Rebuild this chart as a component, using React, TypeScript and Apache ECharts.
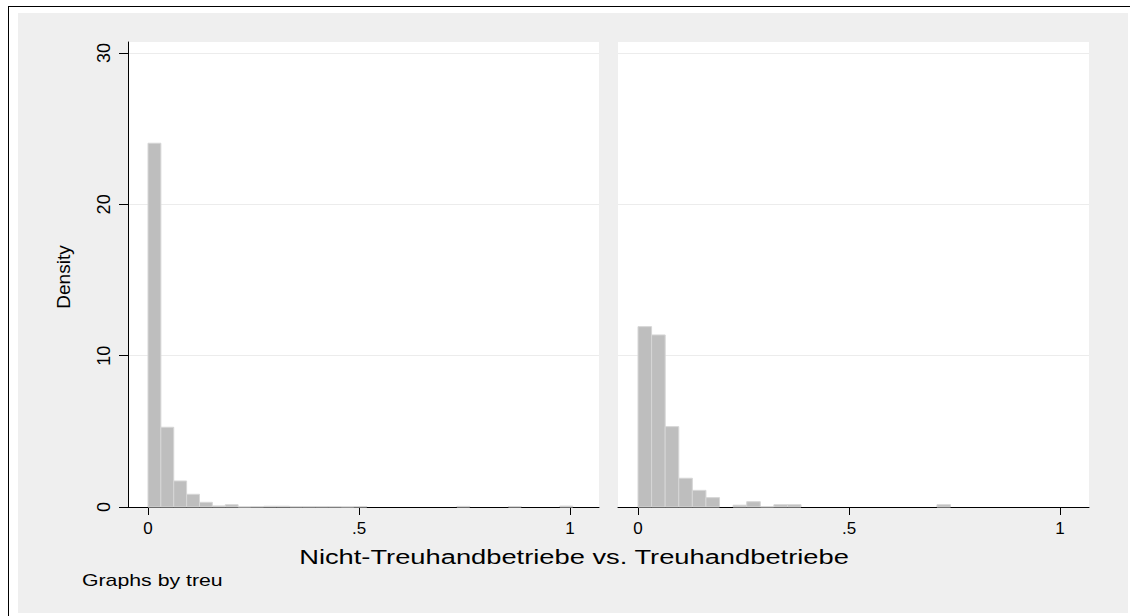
import React, { useEffect, useRef } from "react";
import * as echarts from "echarts";

// Histogram densities (bins start at 0)
const leftBinWidth = 0.0305;
const leftDensity = [
  24.04, 5.27, 1.72, 0.84, 0.31, 0.07, 0.15, 0.01, 0.02, 0.05, 0.05, 0.02, 0.02,
  0.02, 0.02, 0.01, 0.03, 0, 0, 0, 0, 0, 0, 0, 0.04, 0, 0, 0, 0.03, 0, 0, 0, 0.06,
];
const rightBinWidth = 0.0322;
const rightDensity = [
  11.92, 11.37, 5.31, 1.9, 1.1, 0.62, 0, 0.12, 0.35, 0.02, 0.15, 0.15, 0, 0, 0, 0,
  0, 0, 0, 0, 0, 0, 0.15,
];
const xTicks = [0, 0.5, 1];
const yTicks = [0, 10, 20, 30];
const xTitle = "Nicht-Treuhandbetriebe vs. Treuhandbetriebe";
const yTitle = "Density";
const note = "Graphs by treu";

const FONT = "Liberation Sans, Arial, Helvetica, sans-serif";

function toBins(values: number[], w: number) {
  const out: number[][] = [];
  values.forEach((v, i) => {
    if (v > 0) out.push([i * w, (i + 1) * w, v]);
  });
  return out;
}

const fmtX = (v: number) => String(v).replace(/^0\./, ".");

export default function App() {
  const ref = useRef<HTMLDivElement>(null);
  useEffect(() => {
    if (!ref.current) return;
    const chart = echarts.init(ref.current, undefined, { renderer: "svg" });
    const renderItem = (params: any, api: any) => {
      const x0 = api.value(0);
      const x1 = api.value(1);
      const y = api.value(2);
      const p0 = api.coord([x0, 0]);
      const p1 = api.coord([x1, y]);
      return {
        type: "rect",
        shape: { x: p0[0], y: p1[1], width: p1[0] - p0[0], height: p0[1] - p1[1] },
        style: { fill: "#bebebe", stroke: "#d6d6d6", lineWidth: 1 },
      };
    };
    const xAxisBase = (gridIndex: number) => ({
      type: "value",
      gridIndex,
      min: -0.0474,
      max: 1.0687,
      axisLine: { show: true, onZero: false, lineStyle: { color: "#000", width: 1 } },
      axisTick: { show: true, length: 8, customValues: xTicks, lineStyle: { color: "#000" } },
      axisLabel: {
        show: true,
        customValues: xTicks,
        formatter: fmtX,
        fontSize: 17,
        color: "#000",
        margin: 13,
        fontFamily: FONT,
      },
      splitLine: { show: false },
    });
    const yAxisBase = (gridIndex: number, showAxis: boolean) => ({
      type: "value",
      gridIndex,
      min: 0,
      max: 30.73,
      interval: 10,
      axisLine: { show: showAxis, onZero: false, lineStyle: { color: "#000", width: 1 } },
      axisTick: { show: showAxis, length: 9, customValues: yTicks, lineStyle: { color: "#000" } },
      axisLabel: {
        show: showAxis,
        customValues: yTicks,
        rotate: 90,
        fontSize: 18,
        color: "#000",
        margin: 15,
        fontFamily: FONT,
      },
      splitLine: { show: true, lineStyle: { color: "#ececec", width: 1 } },
    });
    chart.setOption({
      animation: false,
      backgroundColor: "#ffffff",
      grid: [
        { left: 128, top: 42, width: 471, height: 465, show: true, backgroundColor: "#ffffff", borderWidth: 0 },
        { left: 618, top: 42, width: 471, height: 465, show: true, backgroundColor: "#ffffff", borderWidth: 0 },
      ],
      xAxis: [xAxisBase(0), xAxisBase(1)],
      yAxis: [yAxisBase(0, true), yAxisBase(1, false)],
      series: [
        {
          type: "custom",
          xAxisIndex: 0,
          yAxisIndex: 0,
          renderItem,
          encode: { x: [0, 1], y: 2 },
          data: toBins(leftDensity, leftBinWidth),
        },
        {
          type: "custom",
          xAxisIndex: 1,
          yAxisIndex: 1,
          renderItem,
          encode: { x: [0, 1], y: 2 },
          data: toBins(rightDensity, rightBinWidth),
        },
      ],
      graphic: [
        { type: "rect", z: -10, shape: { x: 18, y: 13, width: 1110, height: 600 }, style: { fill: "#efefef" } },
        { type: "line", shape: { x1: 8, y1: 6.5, x2: 1130, y2: 6.5 }, style: { stroke: "#000", lineWidth: 1 } },
        { type: "line", shape: { x1: 8.5, y1: 6, x2: 8.5, y2: 616 }, style: { stroke: "#000", lineWidth: 1 } },
        {
          type: "text",
          x: 63,
          y: 277,
          rotation: Math.PI / 2,
          style: { text: yTitle, fontSize: 19, fontFamily: FONT, fill: "#000", align: "center", verticalAlign: "middle" },
        },
        {
          type: "text",
          x: 574,
          y: 557,
          scaleX: 1.3,
          style: { text: xTitle, fontSize: 21, fontFamily: FONT, fill: "#000", align: "center", verticalAlign: "middle" },
        },
        {
          type: "text",
          x: 82,
          y: 580,
          scaleX: 1.33,
          style: { text: note, fontSize: 16, fontFamily: FONT, fill: "#000", align: "left", verticalAlign: "middle" },
        },
      ],
    });
    return () => chart.dispose();
  }, []);
  return (
    <div
      ref={ref}
      style={{ position: "absolute", left: 0, top: 0, width: 1130, height: 616, background: "#fff" }}
    />
  );
}
